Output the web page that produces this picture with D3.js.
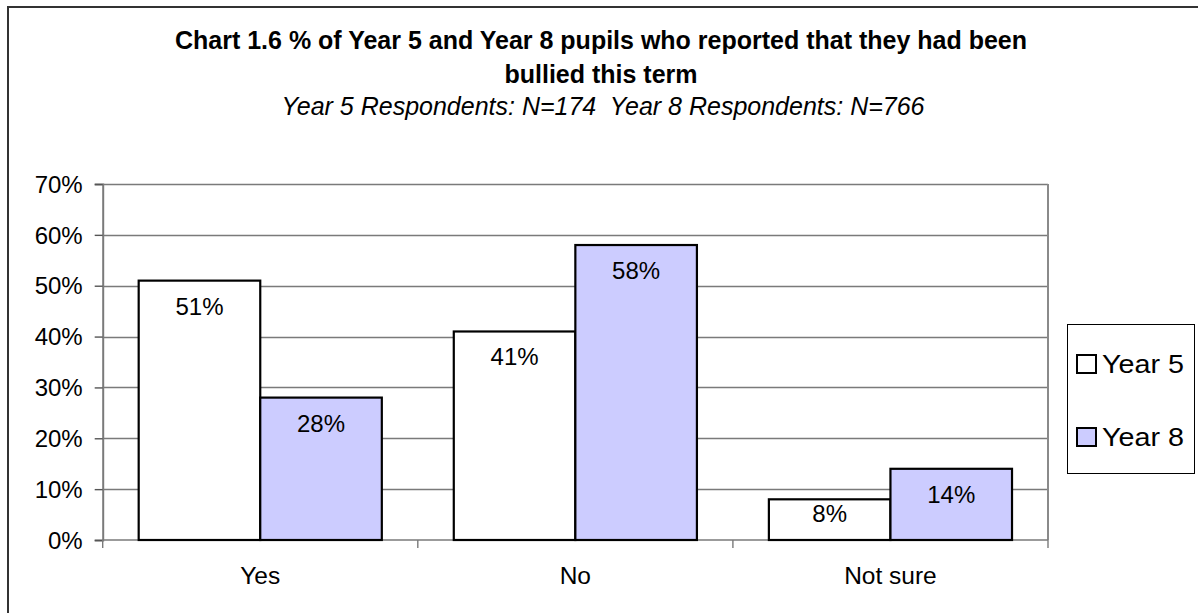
<!DOCTYPE html>
<html>
<head>
<meta charset="utf-8">
<script src="https://cdn.jsdelivr.net/npm/d3@7/dist/d3.min.js"></script>
<style>
  html, body { margin: 0; padding: 0; background: #fff; }
  svg { display: block; font-family: "Liberation Sans", Arial, sans-serif; }
  .keep-spaces { white-space: pre; }
</style>
</head>
<body>
<svg id="chart" width="1198" height="613"></svg>
<script>
// Survey responses: share of pupils reporting bullying this term
const categories = ["Yes", "No", "Not sure"];
const seriesNames = ["Year 5", "Year 8"];
const year5Values = [0.51, 0.41, 0.08];
const year8Values = [0.28, 0.58, 0.14];
const yTicks = [0, 0.1, 0.2, 0.3, 0.4, 0.5, 0.6, 0.7];
const titleLines = [
  "Chart 1.6 % of Year 5 and Year 8 pupils who reported that they had been",
  "bullied this term"
];
const subtitle = "Year 5 Respondents: N=174  Year 8 Respondents: N=766";

const seriesValues = [year5Values, year8Values];
const seriesFill = ["#FFFFFF", "#CCCCFF"];

const svg = d3.select("#chart");

// outer chart frame
svg.append("rect")
  .attr("x", 8).attr("y", 7)
  .attr("width", 1210).attr("height", 640)
  .attr("fill", "none").attr("stroke", "#333").attr("stroke-width", 2);

// titles
const title = svg.append("g").attr("font-weight", "bold").attr("font-size", 25)
  .attr("text-anchor", "middle");
titleLines.forEach((t, i) => {
  title.append("text").attr("x", 601).attr("y", 49 + i * 33.7).text(t);
});
svg.append("text")
  .attr("class", "keep-spaces")
  .attr("x", 603).attr("y", 115)
  .attr("text-anchor", "middle").attr("font-size", 25).attr("font-style", "italic")
  .text(subtitle);

// plot area
const plot = { left: 102.7, right: 1048, top: 184, bottom: 540 };

const y = d3.scaleLinear().domain([0, 0.7]).range([plot.bottom, plot.top]);
const x0 = d3.scaleBand().domain(categories).range([plot.left, plot.right])
  .paddingInner(0).paddingOuter(0);
const x1 = d3.scaleBand().domain(seriesNames).range([0, x0.bandwidth()])
  .paddingInner(0).paddingOuter(0.296);

// horizontal gridlines
svg.append("g").selectAll("line")
  .data(yTicks.filter(d => d > 0))
  .join("line")
  .attr("x1", plot.left).attr("x2", plot.right)
  .attr("y1", d => Math.round(y(d)) + 0.5).attr("y2", d => Math.round(y(d)) + 0.5)
  .attr("stroke", "#7a7a7a").attr("stroke-width", 1.4);

// right border of the plot area
svg.append("line")
  .attr("x1", plot.right).attr("x2", plot.right)
  .attr("y1", plot.top).attr("y2", plot.bottom)
  .attr("stroke", "#8a8a8a").attr("stroke-width", 2);

// y axis
const yAxis = d3.axisLeft(y)
  .tickValues(yTicks)
  .tickFormat(d3.format(".0%"))
  .tickSize(8).tickPadding(12);
const yG = svg.append("g").attr("transform", `translate(${plot.left},0)`).call(yAxis);
yG.select(".domain").attr("stroke", "#7a7a7a").attr("stroke-width", 2);
yG.selectAll(".tick line").attr("stroke", "#555").attr("stroke-width", 1.4);
yG.selectAll(".tick text")
  .attr("font-size", 24).attr("font-family", "Liberation Sans, Arial, sans-serif")
  .attr("fill", "#000").attr("dy", "0.34em");

// x axis with ticks at category boundaries
const xAxisG = svg.append("g").attr("transform", `translate(0,${plot.bottom})`);
xAxisG.append("line")
  .attr("x1", plot.left).attr("x2", plot.right)
  .attr("stroke", "#7a7a7a").attr("stroke-width", 1.4);
const boundaries = categories.map(c => x0(c)).concat([x0(categories[categories.length - 1]) + x0.bandwidth()]);
xAxisG.selectAll("line.tk")
  .data(boundaries)
  .join("line").attr("class", "tk")
  .attr("x1", d => d).attr("x2", d => d)
  .attr("y1", 0).attr("y2", 8)
  .attr("stroke", "#7a7a7a").attr("stroke-width", 1.4);
xAxisG.selectAll("text")
  .data(categories)
  .join("text")
  .attr("x", d => x0(d) + x0.bandwidth() / 2)
  .attr("y", 44)
  .attr("text-anchor", "middle").attr("font-size", 24.5)
  .text(d => d);

// bars
const barData = [];
categories.forEach((c, ci) => {
  seriesNames.forEach((s, si) => {
    barData.push({ cat: c, series: s, si, value: seriesValues[si][ci] });
  });
});

const bars = svg.append("g");
bars.selectAll("rect")
  .data(barData)
  .join("rect")
  .attr("x", d => x0(d.cat) + x1(d.series))
  .attr("y", d => y(d.value))
  .attr("width", x1.bandwidth())
  .attr("height", d => y(0) - y(d.value))
  .attr("fill", d => seriesFill[d.si])
  .attr("stroke", "#000").attr("stroke-width", 2.2);

// value labels inside the bar ends
bars.selectAll("text")
  .data(barData)
  .join("text")
  .attr("x", d => x0(d.cat) + x1(d.series) + x1.bandwidth() / 2)
  .attr("y", d => {
    const top = y(d.value), mid = (y(d.value) + y(0)) / 2;
    return Math.min(top + 34, mid + 2.5);
  })
  .attr("text-anchor", "middle").attr("font-size", 24)
  .text(d => d3.format(".0%")(d.value));

// legend
const legend = svg.append("g");
legend.append("rect")
  .attr("x", 1067.5).attr("y", 324.5).attr("width", 127).attr("height", 149)
  .attr("fill", "#fff").attr("stroke", "#000").attr("stroke-width", 1);
seriesNames.forEach((s, i) => {
  const yy = 373 + i * 73;
  legend.append("rect")
    .attr("x", 1077).attr("y", yy - 18).attr("width", 19).attr("height", 18)
    .attr("fill", seriesFill[i]).attr("stroke", "#000").attr("stroke-width", 2);
  legend.append("text")
    .attr("x", 1102).attr("y", yy).attr("font-size", 25.5)
    .attr("textLength", 82).attr("lengthAdjust", "spacingAndGlyphs")
    .text(s);
});
</script>
</body>
</html>
